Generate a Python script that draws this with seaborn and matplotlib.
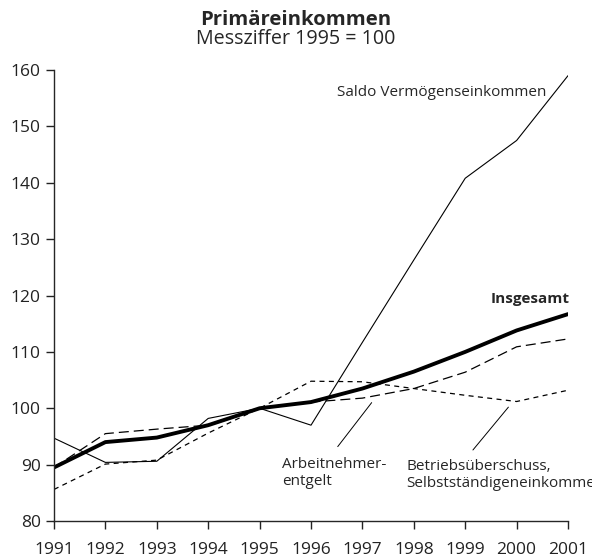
import numpy as np
import pandas as pd
import matplotlib.pyplot as plt
import seaborn as sns

years = list(range(1991, 2002))
insgesamt = [89.5, 94.0, 94.8, 97.0, 100.0, 101.1, 103.5, 106.5, 110.0, 113.8, 116.7]
arbeitnehmer = [89.5, 95.5, 96.3, 97.0, 100.0, 101.1, 101.8, 103.5, 106.4, 110.9, 112.3]
betrieb = [85.6, 90.1, 90.8, 95.6, 100.0, 104.8, 104.7, 103.5, 102.3, 101.2, 103.2]
saldo = [94.7, 90.4, 90.6, 98.2, 100.0, 97.0, 111.7, 126.3, 140.8, 147.5, 159.0]

sns.set_style("ticks")
plt.rcParams["font.family"] = ["Open Sans", "DejaVu Sans"]

df = pd.DataFrame({"Jahr": years, "Insgesamt": insgesamt, "Arbeitnehmer": arbeitnehmer,
                   "Betrieb": betrieb, "Saldo": saldo})

fig = plt.figure(figsize=(5.92, 5.60), dpi=100)
ax = fig.add_axes([0.0912, 0.0696, 0.8683, 0.8054])

sns.lineplot(data=df, x="Jahr", y="Saldo", ax=ax, color="black", lw=0.8)
sns.lineplot(data=df, x="Jahr", y="Betrieb", ax=ax, color="black", lw=0.9)
ax.lines[-1].set_dashes([4, 3.5])
sns.lineplot(data=df, x="Jahr", y="Arbeitnehmer", ax=ax, color="black", lw=0.9)
ax.lines[-1].set_dashes([8, 4])
sns.lineplot(data=df, x="Jahr", y="Insgesamt", ax=ax, color="black", lw=2.8)

ax.set_xlim(1991, 2001)
ax.set_ylim(80, 160)
ax.set_xticks(years)
ax.set_yticks(range(80, 161, 10))
ax.set_xlabel("")
ax.set_ylabel("")
ax.tick_params(axis="both", labelsize=12.5, length=6, width=1, colors="#222222")
ax.tick_params(axis="x", pad=9)
for s in ["top", "right"]:
    ax.spines[s].set_visible(False)
for s in ["left", "bottom"]:
    ax.spines[s].set_linewidth(1)

ax.text(2000.58, 156.0, "Saldo Vermögenseinkommen", fontsize=11, ha="right", va="center")
ax.text(2001.03, 119.3, "Insgesamt", fontsize=11, fontweight="bold", ha="right", va="center",
        clip_on=False)
ax.text(1995.44, 88.5, "Arbeitnehmer-\nentgelt", fontsize=11, ha="left", va="center",
        linespacing=1.15)
ax.plot([1996.52, 1997.18], [93.2, 101.0], color="black", lw=0.7)
ax.text(1997.86, 88.2, "Betriebsüberschuss,\nSelbstständigeneinkommen", fontsize=11,
        ha="left", va="center", linespacing=1.15, clip_on=False)
ax.plot([1999.15, 1999.84], [92.6, 100.2], color="black", lw=0.7)

fig.text(0.5, 0.964, "Primäreinkommen", fontsize=14.6, fontweight="bold", ha="center", va="center")
fig.text(0.5, 0.930, "Messziffer 1995 = 100", fontsize=14.2, ha="center", va="center")

fig.savefig("out.png", dpi=100)
